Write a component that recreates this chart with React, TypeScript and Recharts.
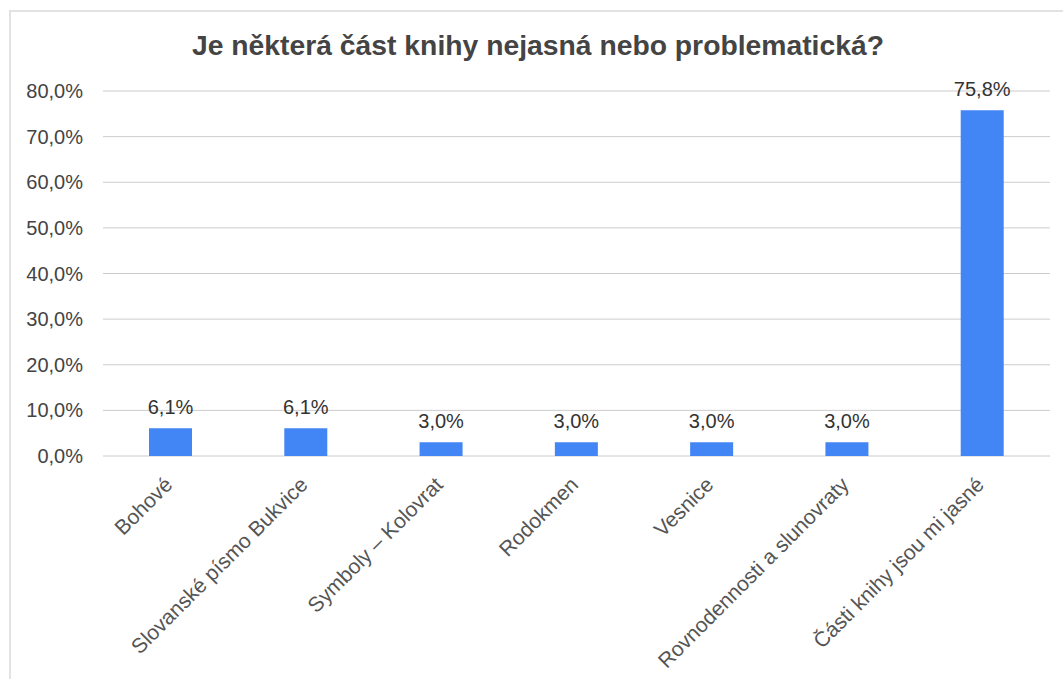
import { BarChart, Bar, XAxis, YAxis, CartesianGrid, LabelList } from "recharts";

const categories = [
  "Bohové",
  "Slovanské písmo Bukvice",
  "Symboly – Kolovrat",
  "Rodokmen",
  "Vesnice",
  "Rovnodennosti a slunovraty",
  "Části knihy jsou mi jasné",
];
const shares = [6.1, 6.1, 3.0, 3.0, 3.0, 3.0, 75.8];
const yTicks = [0, 10, 20, 30, 40, 50, 60, 70, 80];

const FONT = "'Liberation Sans', Arial, sans-serif";

const fmt = (v: number) => `${v.toFixed(1).replace(".", ",")}%`;

function RotatedTick(props: any) {
  const { x, y, payload } = props;
  const px = x + 3;
  const py = y + 30;
  return (
    <text
      x={px}
      y={py}
      transform={`rotate(-45, ${px}, ${py})`}
      textAnchor="end"
      fill="#555"
      fontSize={21}
      fontFamily={FONT}
    >
      {payload.value}
    </text>
  );
}

export default function App() {
  const data = categories.map((name, i) => ({ name, value: shares[i] }));

  return (
    <div style={{ position: "absolute", left: 0, top: 0, width: 1063, height: 679, background: "#fff", overflow: "hidden" }}>
      <div
        style={{
          position: "absolute",
          left: 9,
          top: 10,
          width: 1100,
          height: 700,
          borderTop: "2px solid #e2e2e2",
          borderLeft: "2px solid #e2e2e2",
        }}
      />
      <svg style={{ position: "absolute", left: 0, top: 0 }} width={1063} height={80}>
        <text x={538} y={55} textAnchor="middle" fontSize={28.3} fontWeight="bold" fill="#444" fontFamily={FONT}>
          Je některá část knihy nejasná nebo problematická?
        </text>
      </svg>
      <div style={{ position: "absolute", left: 0, top: 0 }}>
        <BarChart width={1063} height={679} data={data} margin={{ top: 91, right: 13, bottom: 0, left: 0 }}>
          <CartesianGrid vertical={false} stroke="#cccccc" />
          <XAxis
            dataKey="name"
            height={223}
            axisLine={false}
            tickLine={false}
            tickSize={0}
            tickMargin={0}
            interval={0}
            tick={<RotatedTick />}
          />
          <YAxis
            width={103}
            domain={[0, 80]}
            ticks={yTicks}
            axisLine={false}
            tickLine={false}
            tickSize={0}
            tickMargin={20}
            tickFormatter={fmt}
            tick={{ fill: "#444", fontSize: 20, fontFamily: FONT }}
          />
          <Bar dataKey="value" fill="#4285f4" barSize={43} isAnimationActive={false}>
            <LabelList
              dataKey="value"
              position="top"
              offset={14}
              formatter={(v: any) => fmt(Number(v))}
              fill="#333"
              fontSize={20}
              fontFamily={FONT}
            />
          </Bar>
        </BarChart>
      </div>
    </div>
  );
}
